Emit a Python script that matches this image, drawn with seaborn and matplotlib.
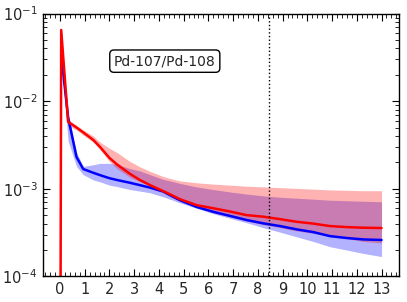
import numpy as np
import pandas as pd
import matplotlib
matplotlib.use("Agg")
import matplotlib.pyplot as plt
import seaborn as sns
from matplotlib.ticker import AutoMinorLocator, LogLocator, NullFormatter

# ---- data ----
x_grid = [0.05, 0.33, 0.67, 0.94, 1.35, 1.62, 2.0, 2.3, 2.83, 3.23, 3.64, 4.17, 4.5,
          4.85, 5.52, 6.19, 6.87, 7.54, 8.21, 8.89, 9.56, 10.24, 10.91, 11.58, 12.25, 13.0]

red_x = [0.0] + x_grid
red_mid = [1e-7, 0.065, 0.0058, 0.0050, 0.0044, 0.0036, 0.0030, 0.00225, 0.0019, 0.00148, 0.00126,
           0.0011, 0.00094, 0.00085, 0.00076, 0.00065, 0.00060, 0.00055, 0.00050, 0.00048,
           0.00045, 0.00042, 0.00040, 0.000375, 0.000365, 0.000359, 0.000356]
red_hi = [0.068, 0.0062, 0.0053, 0.0047, 0.0040, 0.0034, 0.0029, 0.0026, 0.00205, 0.00178,
          0.00158, 0.00138, 0.0013, 0.00123, 0.00117, 0.00113, 0.0011, 0.00107, 0.00105,
          0.00103, 0.00101, 0.00099, 0.00097, 0.00096, 0.00095, 0.00095]
red_lo = [0.055, 0.0052, 0.0047, 0.0041, 0.0034, 0.0028, 0.00205, 0.0017, 0.00135, 0.0012,
          0.00108, 0.00094, 0.00084, 0.00074, 0.00062, 0.00053, 0.00048, 0.00043, 0.00039,
          0.00036, 0.00033, 0.00031, 0.00029, 0.00027, 0.00025, 0.00024]

blue_mid = [0.034, 0.0065, 0.0023, 0.00168, 0.00152, 0.00143, 0.00132, 0.00126, 0.00117, 0.0011,
            0.00103, 0.00093, 0.00083, 0.00074, 0.00062, 0.000546, 0.00049, 0.00044, 0.000403,
            0.000375, 0.000344, 0.00032, 0.000288, 0.000274, 0.000264, 0.00026]
blue_hi = [0.036, 0.0072, 0.0026, 0.0018, 0.00188, 0.00195, 0.00195, 0.0019, 0.0017, 0.0016,
           0.00145, 0.00128, 0.00122, 0.00115, 0.00105, 0.00098, 0.00092, 0.00087, 0.00083,
           0.0008, 0.00078, 0.00076, 0.00074, 0.00073, 0.00072, 0.00071]
blue_lo = [0.030, 0.0035, 0.0018, 0.00145, 0.00126, 0.0012, 0.0011, 0.00106, 0.00098, 0.00094,
           0.0009, 0.00081, 0.00075, 0.00069, 0.0006, 0.00052, 0.00046, 0.00041, 0.00036,
           0.00032, 0.000283, 0.00025, 0.000218, 0.0002, 0.000183, 0.000168]

vline_x = 8.45
label_text = "Pd-107/Pd-108"
x_ticks = list(range(0, 14))

# ---- plotting ----
sns.set_style("white")
plt.rcParams["font.family"] = ["DejaVu Sans"]
plt.rcParams["mathtext.fontset"] = "dejavusans"

fig = plt.figure(figsize=(4.07, 3.02), dpi=100)
ax = fig.add_axes([0.106, 0.085, 0.874, 0.870])

ax.fill_between(x_grid, blue_lo, blue_hi, color="#0000ff", alpha=0.3, linewidth=0)
ax.fill_between(x_grid, red_lo, red_hi, color="#ff0000", alpha=0.3, linewidth=0)

df_blue = pd.DataFrame({"x": x_grid, "y": blue_mid})
df_red = pd.DataFrame({"x": red_x, "y": red_mid})
sns.lineplot(data=df_blue, x="x", y="y", ax=ax, color="#0000ff", linewidth=1.8, sort=False)
sns.lineplot(data=df_red, x="x", y="y", ax=ax, color="#ff0000", linewidth=1.8, sort=False)

ax.axvline(vline_x, color="black", linestyle=":", linewidth=1.0)

ax.set_yscale("log")
ax.set_ylim(1e-4, 1e-1)
ax.set_xlim(-0.68, 13.7)
ax.set_xlabel("")
ax.set_ylabel("")

ax.set_xticks(x_ticks)
ax.set_xticklabels([str(t) for t in x_ticks])
ax.xaxis.set_minor_locator(AutoMinorLocator(5))
ax.yaxis.set_major_locator(LogLocator(base=10, numticks=10))
ax.yaxis.set_minor_locator(LogLocator(base=10, subs=np.arange(2, 10), numticks=10))
ax.yaxis.set_minor_formatter(NullFormatter())

ax.tick_params(which="both", direction="in", top=True, right=True, bottom=True, left=True,
               color="black", labelsize=10.5)
ax.tick_params(which="major", length=5, width=0.8, pad=4)
ax.tick_params(which="minor", length=3, width=0.6)

for s in ax.spines.values():
    s.set_color("black")
    s.set_linewidth(1.0)

ax.text(0.342, 0.819, label_text, transform=ax.transAxes, ha="center", va="center",
        fontsize=10, bbox=dict(boxstyle="round,pad=0.3", facecolor="white",
                               edgecolor="black", linewidth=1.0))

fig.savefig("out.png", dpi=100)
